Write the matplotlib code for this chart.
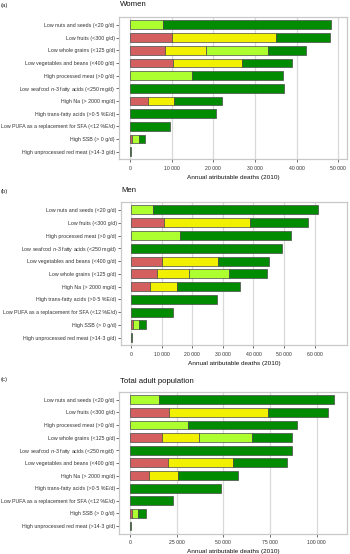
import matplotlib
matplotlib.use("Agg")
import matplotlib.pyplot as plt
from matplotlib.ticker import FuncFormatter, FixedLocator
import numpy as np

plt.rcParams['font.family'] = ['Liberation Sans', 'DejaVu Sans']

# ---------------- data ----------------
women_cats = ["Low nuts and seeds (<20 g/d)", "Low fruits (<300 g/d)", "Low whole grains (<125 g/d)",
              "Low vegetables and beans (<400 g/d)", "High processed meat (>0 g/d)",
              "Low seafood $n$-3 fatty acids (<250 mg/d)", "High Na (> 2000 mg/d)",
              "High trans-fatty acids (>0·5 %E/d)", "Low PUFA as a replacement for SFA (<12 %E/d)",
              "High SSB (> 0 g/d)", "High unprocessed red meat (>14·3 g/d)"]
women_red = [0, 10000, 8400, 10240, 0, 0, 4240, 0, 0, 400, 0]
women_yellow = [0, 25040, 9760, 16720, 0, 0, 6320, 0, 0, 0, 0]
women_lgreen = [8000, 0, 15040, 0, 14880, 0, 0, 0, 0, 1760, 0]
women_green = [40160, 12880, 9040, 11920, 21920, 36960, 11520, 20720, 9680, 1520, 240]

men_cats = ["Low nuts and seeds (<20 g/d)", "Low fruits (<300 g/d)", "High processed meat (>0 g/d)",
            "Low seafood $n$-3 fatty acids (<250 mg/d)", "Low vegetables and beans (<400 g/d)",
            "Low whole grains (<125 g/d)", "High Na (> 2000 mg/d)", "High trans-fatty acids (>0·5 %E/d)",
            "Low PUFA as a replacement for SFA (<12 %E/d)", "High SSB (> 0 g/d)",
            "High unprocessed red meat (>14·3 g/d)"]
men_red = [0, 10890, 0, 0, 10240, 8500, 6210, 0, 0, 650, 0]
men_yellow = [0, 28000, 0, 0, 18080, 10350, 8930, 0, 0, 0, 0]
men_lgreen = [7300, 0, 16010, 0, 0, 13290, 0, 0, 0, 1850, 0]
men_green = [53920, 19060, 36280, 49460, 16890, 12300, 20480, 28000, 13830, 2400, 400]

total_cats = ["Low nuts and seeds (<20 g/d)", "Low fruits (<300 g/d)", "High processed meat (>0 g/d)",
              "Low whole grains (<125 g/d)", "Low seafood $n$-3 fatty acids (<250 mg/d)",
              "Low vegetables and beans (<400 g/d)", "High Na (> 2000 mg/d)",
              "High trans-fatty acids (>0·5 %E/d)", "Low PUFA as a replacement for SFA (<12 %E/d)",
              "High SSB (> 0 g/d)", "High unprocessed red meat (>14·3 g/d)"]
total_red = [0, 20800, 0, 16920, 0, 20450, 10400, 0, 0, 900, 0]
total_yellow = [0, 53070, 0, 20100, 0, 34910, 15340, 0, 0, 0, 0]
total_lgreen = [15340, 0, 30850, 28560, 0, 0, 0, 0, 0, 3500, 0]
total_green = [94140, 32090, 58540, 21340, 86700, 28740, 31910, 48480, 23270, 4060, 530]

women_ticks = [0, 10000, 20000, 30000, 40000, 50000]
men_ticks = [0, 10000, 20000, 30000, 40000, 50000, 60000]
total_ticks = [0, 25000, 50000, 75000, 100000]

# ---------------- style ----------------
W, H = 350, 554
colors = ["#d45f5f", "#f0f000", "#adff2f", "#008b00"]
edge = "#4a4a4a"

fig = plt.figure(figsize=(W / 100, H / 100), dpi=100)


def px_axes(left, right, top, bottom):
    return fig.add_axes([left / W, (H - bottom) / H, (right - left) / W, (bottom - top) / H])


def fmt(v, _):
    v = int(round(v))
    if v == 0:
        return "0"
    return f"{v:,}".replace(",", " ")


def draw(ax, cats, series, ticks, xlim):
    y = np.arange(len(cats))
    left = np.zeros(len(cats))
    for vals, c in zip(series, colors):
        vals = np.array(vals, dtype=float)
        mask = vals > 0
        ax.barh(y[mask], vals[mask], left=left[mask], height=0.7, color=c,
                edgecolor=edge, linewidth=0.5, zorder=3)
        left = left + vals
    ax.set_ylim(len(cats) - 0.4, -0.6)
    ax.set_xlim(*xlim)
    ax.set_yticks(y)
    ax.set_yticklabels(cats, fontsize=3.75, color="#333333")
    ax.xaxis.set_major_locator(FixedLocator(ticks))
    ax.xaxis.set_major_formatter(FuncFormatter(fmt))
    ax.tick_params(axis='x', labelsize=3.7, colors="#333333", length=2, width=0.5, pad=2.5)
    ax.tick_params(axis='y', length=2, width=0.5, colors="#333333", pad=1.2)
    ax.grid(axis='x', color="#d9d9d9", linewidth=0.9, zorder=0)
    ax.set_axisbelow(True)
    for s in ax.spines.values():
        s.set_color("#c8c8c8")
        s.set_linewidth(0.9)
    ax.set_xlabel("Annual atributable deaths (2010)", fontsize=4.6, color="#111111", labelpad=3)


ax1 = px_axes(119.3, 347, 17.3, 159.3)
draw(ax1, women_cats, [women_red, women_yellow, women_lgreen, women_green], women_ticks, (-2570, 52080))
ax2 = px_axes(121, 347, 202.3, 345.4)
draw(ax2, men_cats, [men_red, men_yellow, men_lgreen, men_green], men_ticks, (-3270, 70590))
ax3 = px_axes(119.3, 347, 392.3, 533.5)
draw(ax3, total_cats, [total_red, total_yellow, total_lgreen, total_green], total_ticks, (-5730, 116240))

for txt, x, yv in [("Women", 120, 5), ("Men", 121, 191), ("Total adult population", 120, 381.5)]:
    fig.text(x / W, 1 - yv / H, txt, fontsize=5.6, ha='left', va='center', color="#111111")
for txt, yv in [("(a)", 5), ("(b)", 191.5), ("(c)", 380)]:
    fig.text(1 / W, 1 - yv / H, txt, fontsize=4.3, ha='left', va='center', color="#222222")

fig.savefig("out.png", dpi=100)
